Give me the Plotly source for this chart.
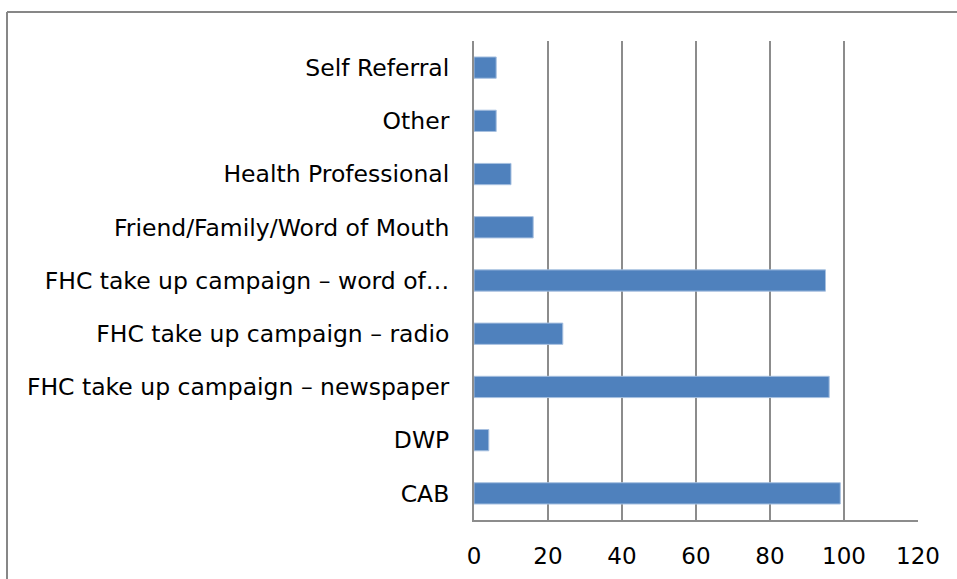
import plotly.graph_objects as go

# Referral sources, listed bottom to top
categories = [
    "CAB",
    "DWP",
    "FHC take up campaign \u2013 newspaper",
    "FHC take up campaign \u2013 radio",
    "FHC take up campaign \u2013 word of\u2026",
    "Friend/Family/Word of Mouth",
    "Health Professional",
    "Other",
    "Self Referral",
]
counts = [99, 4, 96, 24, 95, 16, 10, 6, 6]
x_ticks = [0, 20, 40, 60, 80, 100, 120]

fig = go.Figure(
    go.Bar(
        x=counts,
        y=categories,
        orientation="h",
        marker=dict(color="#4F81BD", line=dict(color="#A7C0E0", width=1)),
    )
)

fig.update_layout(
    width=957,
    height=579,
    margin=dict(l=474, r=39, t=41, b=59),
    paper_bgcolor="white",
    plot_bgcolor="white",
    bargap=0.6,
    showlegend=False,
    font=dict(family="DejaVu Sans", size=23.5, color="#000000"),
    shapes=[
        # outer chart frame
        dict(type="line", xref="paper", yref="paper",
             x0=-467 / 444, x1=(957 - 474) / 444 + 0.01, y0=(579 - 12 - 59) / 479, y1=(579 - 12 - 59) / 479,
             line=dict(color="#878787", width=2)),
        dict(type="line", xref="paper", yref="paper",
             x0=-467 / 444, x1=-467 / 444, y0=(579 - 12 - 59) / 479, y1=-0.2,
             line=dict(color="#878787", width=2)),
    ],
)

fig.update_xaxes(
    range=[0, 120],
    tickvals=x_ticks,
    showgrid=True,
    gridcolor="#8C8C8C",
    gridwidth=2,
    showline=True,
    linecolor="#8C8C8C",
    linewidth=2,
    zeroline=False,
    ticks="",
    ticklabelstandoff=14,
    tickfont=dict(size=23),
    automargin=False,
)
fig.update_yaxes(
    showgrid=False,
    showline=True,
    linecolor="#8C8C8C",
    linewidth=2,
    ticks="",
    ticklabelstandoff=18,
    tickfont=dict(size=23.5),
    automargin=False,
)

fig.write_html("out.html")
